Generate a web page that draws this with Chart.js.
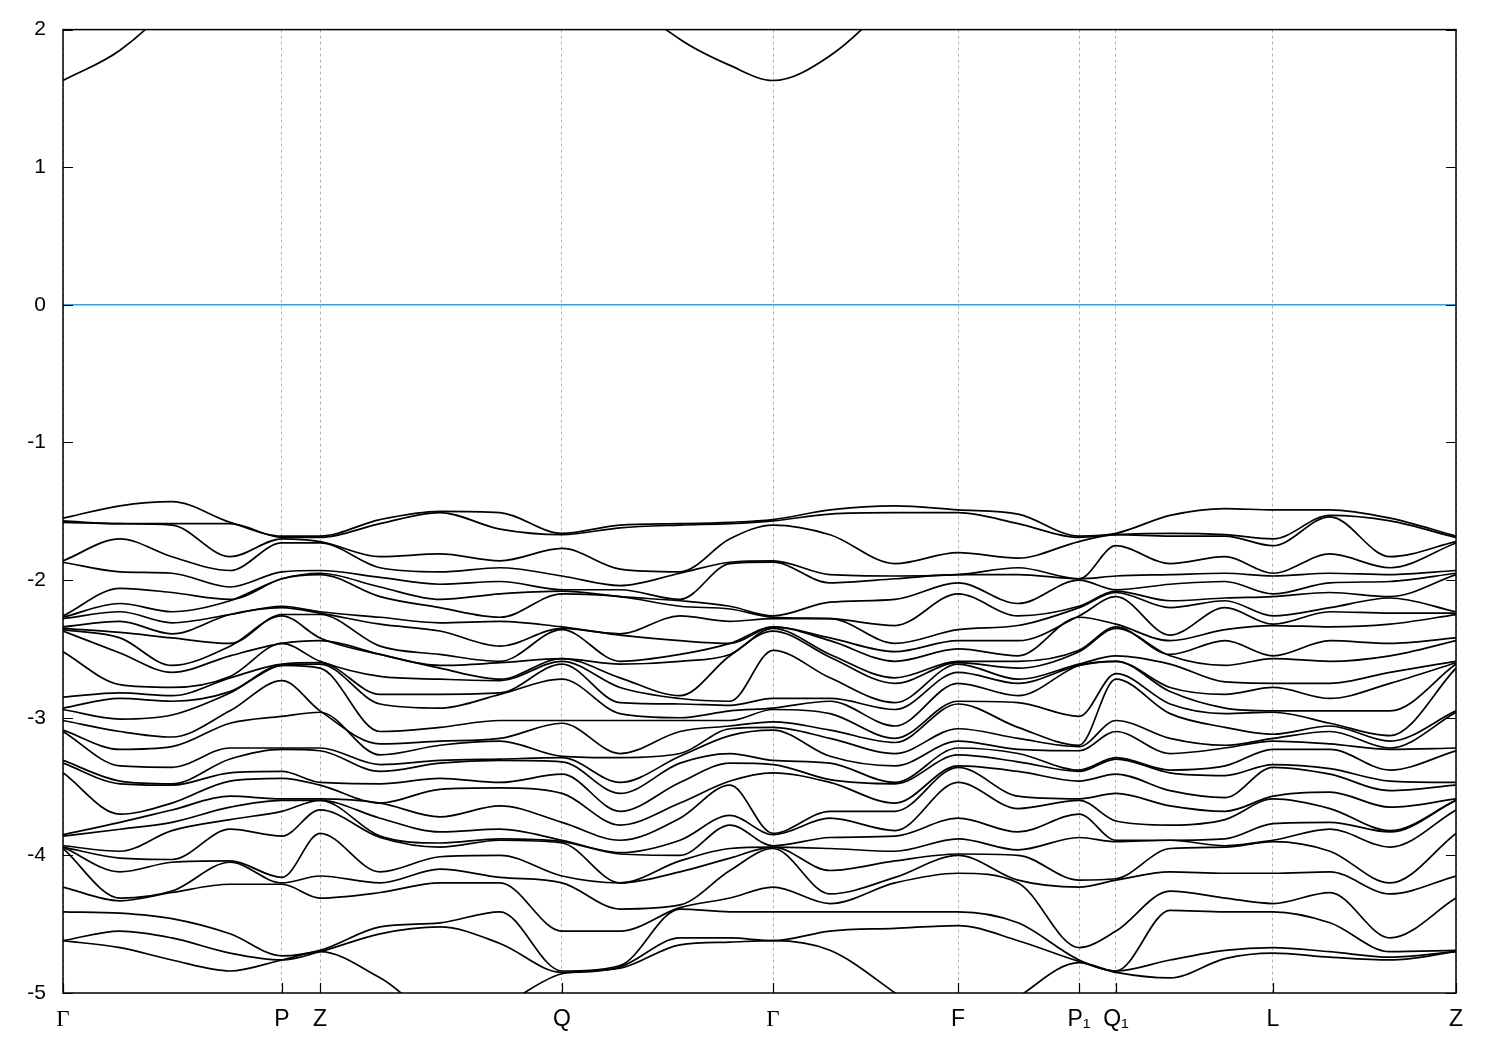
<!DOCTYPE html>
<html>
<head>
<meta charset="utf-8">
<script src="https://cdn.jsdelivr.net/npm/chart.js@4.4.1/dist/chart.umd.min.js"></script>
<style>
  html, body { margin: 0; padding: 0; background: #ffffff; }
  #wrap { width: 1500px; height: 1050px; }
</style>
</head>
<body>
<div id="wrap"><canvas id="c" width="1500" height="1050"></canvas></div>
<script>
// High-symmetry points (path coordinate, normalised) and their labels
const kTickLabels = ['Γ', 'P', 'Z', 'Q', 'Γ', 'F', 'P₁', 'Q₁', 'L', 'Z'];
const kTickPos = [0, 0.1572, 0.1845, 0.3582, 0.5097, 0.6425, 0.7294, 0.7559, 0.8686, 1.0];

// k-path sample positions where energies were read
const kSamples = [0, 0.0409, 0.0782, 0.1199, 0.1572, 0.1845, 0.2276, 0.2706, 0.3137, 0.3582,
  0.3999, 0.4429, 0.4788, 0.5097, 0.5506, 0.5973, 0.6425, 0.6856, 0.7294, 0.7559,
  0.7947, 0.8342, 0.8686, 0.9095, 0.9526, 1.0];

// Conduction band energies (eV) at each sample
const conductionBand = [1.63, 1.85, 2.2, 2.8, 3.2, 3.3, 3.5, 3.6, 3.4, 3.0,
  2.3, 1.93, 1.74, 1.63, 1.81, 2.25, 2.8, 3.0, 3.2, 3.1, 3.2, 3.3, 3.2, 3.3, 3.3, 3.3];

// Valence band energies (eV), sorted, at each sample point along the path
const eGamma1 = [-1.55,-1.57,-1.58,-1.86,-1.87,-2.26,-2.27,-2.28,-2.34,-2.35,-2.36,-2.37,-2.52,-2.85,-2.93,-2.94,-3.02,-3.09,-3.10,-3.31,-3.33,-3.40,-3.85,-3.86,-3.93,-3.94,-3.94,-3.95,-4.23,-4.41,-4.62,-4.62];
const eK01 = [-1.46,-1.59,-1.59,-1.70,-1.94,-2.06,-2.17,-2.23,-2.30,-2.38,-2.42,-2.53,-2.76,-2.82,-2.86,-3.01,-3.10,-3.23,-3.35,-3.46,-3.48,-3.70,-3.76,-3.81,-3.97,-4.02,-4.12,-4.31,-4.33,-4.42,-4.55,-4.67];
const eK02 = [-1.43,-1.59,-1.60,-1.83,-1.95,-2.09,-2.23,-2.31,-2.39,-2.42,-2.62,-2.67,-2.78,-2.84,-2.88,-2.98,-3.14,-3.21,-3.36,-3.48,-3.49,-3.62,-3.67,-3.76,-3.82,-4.03,-4.05,-4.26,-4.27,-4.46,-4.60,-4.76];
const eK03 = [-1.58,-1.59,-1.83,-1.93,-2.05,-2.14,-2.15,-2.25,-2.25,-2.46,-2.48,-2.55,-2.70,-2.71,-2.81,-2.82,-2.95,-3.04,-3.22,-3.30,-3.40,-3.46,-3.57,-3.65,-3.74,-3.81,-4.04,-4.05,-4.21,-4.57,-4.71,-4.84];
const eP = [-1.68,-1.69,-1.70,-1.73,-1.94,-1.99,-1.99,-2.19,-2.20,-2.25,-2.26,-2.46,-2.46,-2.61,-2.62,-2.62,-2.73,-2.99,-3.22,-3.23,-3.39,-3.44,-3.59,-3.60,-3.68,-3.86,-4.16,-4.20,-4.21,-4.73,-4.76,-4.76];
const eZ1 = [-1.68,-1.69,-1.72,-1.73,-1.93,-1.95,-1.96,-2.23,-2.24,-2.25,-2.42,-2.44,-2.59,-2.60,-2.61,-2.64,-2.95,-2.96,-3.22,-3.24,-3.47,-3.49,-3.59,-3.60,-3.60,-3.67,-3.84,-4.15,-4.31,-4.69,-4.70,-4.70];
const eK06 = [-1.56,-1.59,-1.83,-1.91,-1.98,-2.05,-2.12,-2.27,-2.32,-2.48,-2.54,-2.54,-2.70,-2.83,-2.90,-3.10,-3.19,-3.27,-3.34,-3.39,-3.48,-3.62,-3.62,-3.73,-3.86,-3.87,-4.12,-4.20,-4.27,-4.52,-4.57,-4.89];
const eK07 = [-1.50,-1.51,-1.81,-1.94,-2.03,-2.14,-2.20,-2.31,-2.37,-2.54,-2.62,-2.64,-2.72,-2.83,-2.93,-3.07,-3.17,-3.20,-3.31,-3.33,-3.44,-3.52,-3.72,-3.83,-3.91,-3.94,-4.01,-4.10,-4.20,-4.49,-4.52,-5.16];
const eK08 = [-1.51,-1.63,-1.86,-1.91,-2.01,-2.10,-2.27,-2.30,-2.48,-2.59,-2.60,-2.72,-2.73,-2.82,-2.83,-3.02,-3.15,-3.17,-3.30,-3.31,-3.47,-3.51,-3.64,-3.81,-3.88,-3.89,-4.00,-4.16,-4.20,-4.41,-4.64,-5.09];
const eQ = [-1.66,-1.67,-1.77,-1.97,-2.07,-2.08,-2.10,-2.34,-2.35,-2.36,-2.57,-2.57,-2.59,-2.61,-2.72,-3.02,-3.04,-3.28,-3.29,-3.32,-3.41,-3.55,-3.76,-3.89,-3.90,-3.91,-4.15,-4.20,-4.55,-4.84,-4.85,-4.86];
const eK10 = [-1.60,-1.62,-1.92,-2.04,-2.07,-2.12,-2.12,-2.39,-2.40,-2.59,-2.61,-2.71,-2.78,-2.89,-2.97,-3.02,-3.26,-3.29,-3.47,-3.55,-3.68,-3.78,-3.89,-3.98,-3.99,-4.20,-4.20,-4.39,-4.55,-4.80,-4.81,-4.82];
const eK11 = [-1.59,-1.60,-1.94,-1.95,-2.14,-2.15,-2.19,-2.26,-2.44,-2.54,-2.59,-2.84,-2.86,-2.90,-3.00,-3.02,-3.10,-3.26,-3.28,-3.33,-3.47,-3.62,-3.73,-3.89,-4.00,-4.04,-4.12,-4.36,-4.38,-4.39,-4.60,-4.65];
const eK12 = [-1.58,-1.59,-1.70,-1.87,-1.88,-2.19,-2.21,-2.30,-2.46,-2.46,-2.54,-2.55,-2.88,-2.91,-2.95,-3.02,-3.06,-3.08,-3.13,-3.26,-3.33,-3.46,-3.49,-3.71,-3.78,-3.95,-4.02,-4.11,-4.31,-4.41,-4.60,-4.63];
const eGamma2 = [-1.56,-1.57,-1.60,-1.86,-1.87,-2.26,-2.27,-2.28,-2.34,-2.34,-2.35,-2.37,-2.51,-2.86,-2.93,-2.94,-3.03,-3.07,-3.09,-3.31,-3.34,-3.40,-3.84,-3.85,-3.93,-3.94,-3.94,-3.95,-4.23,-4.41,-4.62,-4.62];
const eK14 = [-1.49,-1.52,-1.67,-1.96,-2.02,-2.16,-2.28,-2.28,-2.42,-2.44,-2.54,-2.56,-2.71,-2.86,-2.88,-2.97,-3.09,-3.15,-3.28,-3.33,-3.45,-3.47,-3.68,-3.73,-3.87,-3.95,-4.11,-4.28,-4.35,-4.41,-4.55,-4.69];
const eK15 = [-1.46,-1.51,-1.88,-1.97,-1.99,-2.14,-2.33,-2.46,-2.52,-2.59,-2.71,-2.75,-2.89,-2.94,-3.06,-3.15,-3.18,-3.26,-3.35,-3.47,-3.48,-3.62,-3.68,-3.82,-3.86,-3.97,-4.04,-4.16,-4.20,-4.41,-4.53,-5.00];
const eF = [-1.49,-1.51,-1.80,-1.96,-1.96,-2.02,-2.10,-2.36,-2.44,-2.50,-2.59,-2.60,-2.61,-2.67,-2.75,-2.88,-2.90,-3.08,-3.17,-3.22,-3.27,-3.35,-3.36,-3.47,-3.73,-3.88,-3.99,-4.00,-4.13,-4.41,-4.51,-5.34];
const eK17 = [-1.52,-1.59,-1.84,-1.91,-1.96,-2.17,-2.26,-2.33,-2.44,-2.55,-2.59,-2.64,-2.72,-2.75,-2.84,-2.89,-3.07,-3.15,-3.23,-3.26,-3.32,-3.39,-3.57,-3.66,-3.83,-3.96,-4.00,-4.18,-4.20,-4.49,-4.62,-5.03];
const eP1 = [-1.68,-1.69,-1.72,-1.99,-1.99,-2.00,-2.19,-2.20,-2.26,-2.27,-2.51,-2.52,-2.61,-2.62,-2.62,-2.99,-3.20,-3.21,-3.24,-3.38,-3.39,-3.46,-3.59,-3.60,-3.70,-3.87,-4.18,-4.23,-4.67,-4.76,-4.77,-4.78];
const eQ1 = [-1.66,-1.67,-1.67,-1.75,-1.97,-2.07,-2.08,-2.09,-2.12,-2.32,-2.34,-2.35,-2.55,-2.59,-2.59,-2.68,-2.72,-3.02,-3.10,-3.29,-3.30,-3.41,-3.55,-3.75,-3.89,-3.90,-4.17,-4.18,-4.55,-4.84,-4.84,-4.85];
const eK20 = [-1.53,-1.66,-1.68,-1.88,-1.96,-2.03,-2.15,-2.20,-2.40,-2.44,-2.54,-2.55,-2.61,-2.78,-2.81,-2.90,-2.97,-3.15,-3.26,-3.38,-3.40,-3.53,-3.64,-3.78,-3.89,-3.89,-3.95,-4.12,-4.26,-4.40,-4.76,-4.89];
const eK21 = [-1.48,-1.67,-1.68,-1.83,-1.95,-2.01,-2.13,-2.15,-2.20,-2.36,-2.44,-2.62,-2.74,-2.83,-2.93,-2.97,-3.07,-3.20,-3.22,-3.35,-3.42,-3.58,-3.68,-3.74,-3.88,-3.93,-3.94,-4.13,-4.31,-4.41,-4.69,-4.75];
const eL = [-1.49,-1.70,-1.75,-1.95,-1.97,-2.10,-2.12,-2.26,-2.32,-2.33,-2.55,-2.57,-2.75,-2.78,-2.95,-2.96,-3.12,-3.15,-3.17,-3.23,-3.34,-3.36,-3.57,-3.59,-3.77,-3.89,-3.90,-4.13,-4.35,-4.41,-4.67,-4.71];
const eK23 = [-1.49,-1.53,-1.54,-1.81,-1.95,-2.02,-2.09,-2.20,-2.23,-2.34,-2.44,-2.59,-2.75,-2.86,-2.95,-3.04,-3.06,-3.10,-3.19,-3.23,-3.37,-3.41,-3.54,-3.66,-3.76,-3.81,-3.97,-4.12,-4.27,-4.49,-4.70,-4.74];
const eK24 = [-1.55,-1.57,-1.83,-1.91,-1.96,-2.01,-2.12,-2.13,-2.24,-2.32,-2.46,-2.55,-2.67,-2.75,-2.95,-3.13,-3.17,-3.22,-3.23,-3.38,-3.46,-3.53,-3.65,-3.82,-3.83,-3.94,-4.20,-4.28,-4.60,-4.70,-4.74,-4.76];
const eZ2 = [-1.68,-1.69,-1.72,-1.73,-1.93,-1.95,-1.96,-2.23,-2.24,-2.25,-2.42,-2.44,-2.59,-2.60,-2.61,-2.64,-2.95,-2.96,-3.22,-3.24,-3.47,-3.49,-3.59,-3.60,-3.60,-3.67,-3.84,-4.15,-4.31,-4.69,-4.70,-4.70];

const yTickMin = -5, yTickMax = 2, yTickStep = 1;
const fermiLevel = [0, 0];

// ---- build datasets from the arrays above ----
const columns = [eGamma1, eK01, eK02, eK03, eP, eZ1, eK06, eK07, eK08, eQ, eK10, eK11, eK12,
  eGamma2, eK14, eK15, eF, eK17, eP1, eQ1, eK20, eK21, eL, eK23, eK24, eZ2];
const nBands = eGamma1.length;
const datasets = [];
datasets.push({
  label: 'E_F', data: [{x: kTickPos[0], y: fermiLevel[0]}, {x: kTickPos[kTickPos.length-1], y: fermiLevel[1]}],
  borderColor: '#3d9fda', borderWidth: 1.5, pointRadius: 0, tension: 0
});
for (let b = 0; b < nBands; b++) {
  datasets.push({
    label: 'band' + b,
    data: kSamples.map((k, j) => ({x: k, y: columns[j][b]})),
    borderColor: '#000', borderWidth: 1.7, pointRadius: 0,
    cubicInterpolationMode: 'monotone'
  });
}
datasets.push({
  label: 'cb', data: kSamples.map((k, j) => ({x: k, y: conductionBand[j]})),
  borderColor: '#000', borderWidth: 1.7, pointRadius: 0, cubicInterpolationMode: 'monotone'
});

const frameTicks = {
  id: 'frameTicks',
  afterDraw(chart) {
    const {ctx, chartArea: a, scales} = chart;
    ctx.save();
    ctx.strokeStyle = '#000';
    ctx.lineWidth = 1.5;
    ctx.strokeRect(a.left, a.top, a.right - a.left, a.bottom - a.top);
    ctx.lineWidth = 1.2;
    ctx.beginPath();
    for (let v = yTickMin; v <= yTickMax; v += yTickStep) {
      const y = Math.round(scales.y.getPixelForValue(v)) + 0.5;
      ctx.moveTo(a.left, y); ctx.lineTo(a.left + 10, y);
      ctx.moveTo(a.right, y); ctx.lineTo(a.right - 10, y);
    }
    kTickPos.forEach(k => {
      const x = Math.round(scales.x.getPixelForValue(k)) + 0.5;
      ctx.moveTo(x, a.bottom); ctx.lineTo(x, a.bottom - 10);
    });
    ctx.stroke();
    ctx.restore();
  }
};

new Chart(document.getElementById('c'), {
  type: 'line',
  data: { datasets },
  options: {
    responsive: false,
    devicePixelRatio: 1,
    animation: false,
    events: [],
    layout: { padding: { top: 28, right: 44, left: 0, bottom: 0 } },
    plugins: { legend: { display: false }, tooltip: { enabled: false } },
    scales: {
      x: {
        type: 'linear', min: 0, max: 1,
        afterBuildTicks: s => { s.ticks = kTickPos.map(v => ({ value: v })); },
        afterFit: s => { s.height = 57; },
        ticks: {
          autoSkip: false, maxRotation: 0, padding: 13, color: '#000',
          callback: (v, i) => kTickLabels[i],
          font: ctx => ({ family: (kTickLabels[ctx.index] === 'Γ') ? 'Liberation Serif' : 'Liberation Sans', size: 23 })
        },
        grid: { color: '#b0b0b0', lineWidth: 1, drawTicks: false },
        border: { display: false, dash: [3, 3] }
      },
      y: {
        min: yTickMin, max: yTickMax,
        afterFit: s => { s.width = 63; },
        ticks: { stepSize: yTickStep, padding: 17, color: '#000', font: { family: 'Liberation Sans', size: 21 } },
        grid: { display: false, drawTicks: false },
        border: { display: false }
      }
    }
  },
  plugins: [frameTicks]
});
</script>
</body>
</html>
